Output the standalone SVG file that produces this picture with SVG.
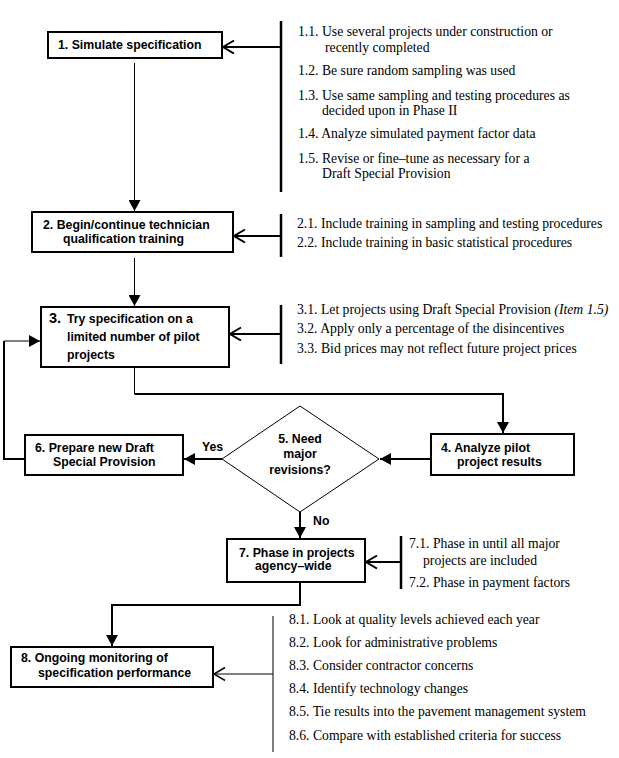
<svg xmlns="http://www.w3.org/2000/svg" width="619" height="758" viewBox="0 0 619 758">
<style>
.box{fill:#fff;stroke:#000;stroke-width:2}
.b{font-family:"Liberation Sans",Arial,sans-serif;font-weight:bold;font-size:12.3px;fill:#000}
.t{font-family:"Liberation Serif","Times New Roman",serif;font-size:13.7px;fill:#000}
.br{stroke:#000;stroke-width:2.5;fill:none}
.c1{stroke:#000;stroke-width:1;fill:none}
.c2{stroke:#000;stroke-width:2;fill:none}
</style>
<defs>
<marker id="fa" markerUnits="userSpaceOnUse" markerWidth="12" markerHeight="12" refX="11" refY="6" orient="auto">
<path d="M0,0 L11,6 L0,12 z" fill="#000"/>
</marker>
<marker id="oa" markerUnits="userSpaceOnUse" markerWidth="14" markerHeight="16" refX="12" refY="7" orient="auto">
<path d="M1,0.5 L12,7 L1,13.5" fill="none" stroke="#000" stroke-width="2"/>
</marker>
<marker id="oat" markerUnits="userSpaceOnUse" markerWidth="14" markerHeight="16" refX="12" refY="7" orient="auto">
<path d="M1,0.5 L12,7 L1,13.5" fill="none" stroke="#000" stroke-width="1.5"/>
</marker>
</defs>

<g id="connectors">
<line class="br" x1="281" y1="21" x2="281" y2="192"/>
<line class="c2" x1="281" y1="47" x2="223" y2="47" marker-end="url(#oa)"/>
<line class="c1" x1="134.5" y1="63" x2="134.5" y2="211" marker-end="url(#fa)"/>
<line class="br" x1="281" y1="214" x2="281" y2="257"/>
<line class="c2" x1="281" y1="236" x2="234" y2="236" marker-end="url(#oa)"/>
<line class="c1" x1="134.5" y1="258" x2="134.5" y2="306" marker-end="url(#fa)"/>
<line class="br" x1="281" y1="305" x2="281" y2="364"/>
<line class="c2" x1="281" y1="334" x2="230" y2="334" marker-end="url(#oa)"/>
<path class="c1" d="M134.5,367 V394"/>
<path class="c2" d="M134.5,394 H503 V433" marker-end="url(#fa)"/>
<line class="c2" x1="431" y1="459" x2="380" y2="459" marker-end="url(#fa)"/>
<line class="c2" x1="222" y1="459" x2="184" y2="459" marker-end="url(#fa)"/>
<path class="c2" d="M25,459 H4 V341"/>
<line class="c1" x1="4" y1="341" x2="40" y2="341" marker-end="url(#fa)"/>
<line class="c2" x1="300" y1="512" x2="300" y2="538" marker-end="url(#fa)"/>
<line class="br" x1="401" y1="536" x2="401" y2="589"/>
<line class="c2" x1="401" y1="562" x2="366" y2="562" marker-end="url(#oa)"/>
<path class="c2" d="M300,582 V605 H112 V646" marker-end="url(#fa)"/>
<line class="c1" x1="273" y1="616" x2="273" y2="752"/>
<line class="c1" x1="273" y1="674" x2="214" y2="674" marker-end="url(#oat)"/>
</g>

<g id="node1">
<rect class="box" x="48" y="32" width="174" height="26"/>
<text class="b" x="58" y="49">1. Simulate specification</text>
</g>
<g id="notes1">
<text class="t" x="298" y="36">1.1. Use several projects under construction or</text>
<text class="t" x="325" y="52">recently completed</text>
<text class="t" x="298" y="75">1.2. Be sure random sampling was used</text>
<text class="t" x="298" y="100">1.3. Use same sampling and testing procedures as</text>
<text class="t" x="322" y="115">decided upon in Phase II</text>
<text class="t" x="298" y="138">1.4. Analyze simulated payment factor data</text>
<text class="t" x="298" y="163">1.5. Revise or fine–tune as necessary for a</text>
<text class="t" x="322" y="178">Draft Special Provision</text>
</g>

<g id="node2">
<rect class="box" x="32" y="212" width="201" height="40"/>
<text class="b" x="43" y="229">2. Begin/continue technician</text>
<text class="b" x="63" y="243">qualification training</text>
</g>
<g id="notes2">
<text class="t" x="297" y="228">2.1. Include training in sampling and testing procedures</text>
<text class="t" x="297" y="247">2.2. Include training in basic statistical procedures</text>
</g>

<g id="node3">
<rect class="box" x="41" y="307" width="188" height="60"/>
<text class="b" x="49" y="323" style="font-size:14.5px">3.</text>
<text class="b" x="67" y="323">Try specification on a</text>
<text class="b" x="67" y="341">limited number of pilot</text>
<text class="b" x="67" y="359">projects</text>
</g>
<g id="notes3">
<text class="t" x="297" y="314">3.1. Let projects using Draft Special Provision <tspan font-style="italic">(Item 1.5)</tspan></text>
<text class="t" x="297" y="333">3.2. Apply only a percentage of the disincentives</text>
<text class="t" x="297" y="353">3.3. Bid prices may not reflect future project prices</text>
</g>

<g id="node4">
<rect class="box" x="431" y="434" width="143" height="41"/>
<text class="b" x="441" y="452">4. Analyze pilot</text>
<text class="b" x="457" y="466">project results</text>
</g>

<g id="node5">
<polygon points="300,406 379,459 300,512 222,459" fill="#fff" stroke="#000" stroke-width="1"/>
<text class="b" x="300" y="443" text-anchor="middle">5. Need</text>
<text class="b" x="300" y="458" text-anchor="middle">major</text>
<text class="b" x="300" y="474" text-anchor="middle">revisions?</text>
</g>
<text class="b" x="202" y="451">Yes</text>
<text class="b" x="313" y="525">No</text>

<g id="node6">
<rect class="box" x="25" y="435" width="158" height="40"/>
<text class="b" x="35" y="452">6. Prepare new Draft</text>
<text class="b" x="53" y="466">Special Provision</text>
</g>

<g id="node7">
<rect class="box" x="227" y="539" width="138" height="43"/>
<text class="b" x="239" y="557">7. Phase in projects</text>
<text class="b" x="255" y="570">agency–wide</text>
</g>
<g id="notes7">
<text class="t" x="409" y="548">7.1. Phase in until all major</text>
<text class="t" x="423" y="565">projects are included</text>
<text class="t" x="409" y="587">7.2. Phase in payment factors</text>
</g>

<g id="node8">
<rect class="box" x="11" y="647" width="202" height="40"/>
<text class="b" x="21" y="662">8. Ongoing monitoring of</text>
<text class="b" x="38" y="677">specification performance</text>
</g>
<g id="notes8">
<text class="t" x="289" y="624">8.1. Look at quality levels achieved each year</text>
<text class="t" x="289" y="647">8.2. Look for administrative problems</text>
<text class="t" x="289" y="670">8.3. Consider contractor concerns</text>
<text class="t" x="289" y="693">8.4. Identify technology changes</text>
<text class="t" x="289" y="716">8.5. Tie results into the pavement management system</text>
<text class="t" x="289" y="740">8.6. Compare with established criteria for success</text>
</g>
</svg>
